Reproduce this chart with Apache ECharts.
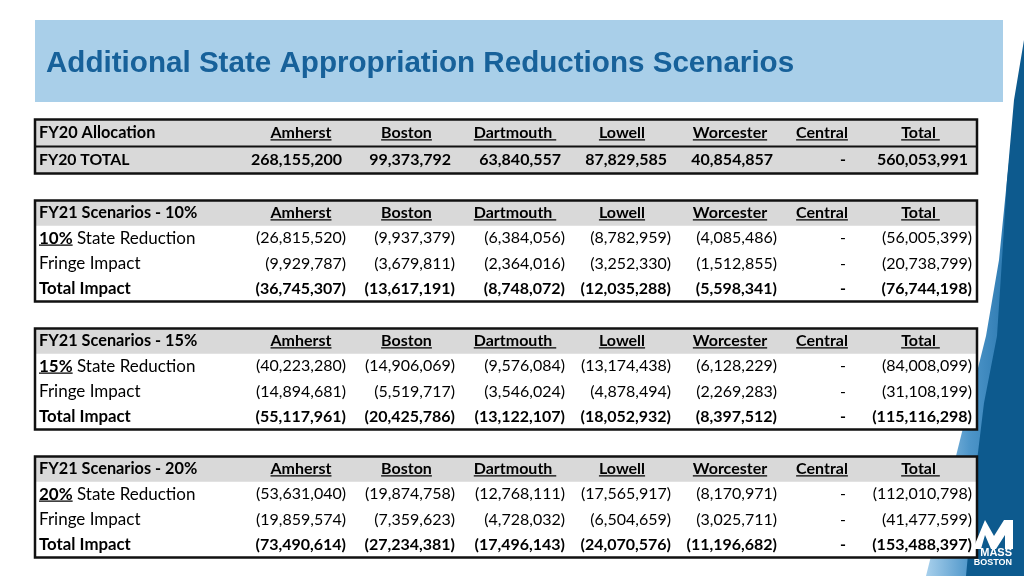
<!DOCTYPE html>
<html><head><meta charset="utf-8">
<script src="https://cdn.jsdelivr.net/npm/echarts@6/dist/echarts.min.js"></script>
<style>html,body{margin:0;padding:0;background:#fff}#c{width:1024px;height:576px}</style>
</head><body><div id="c"></div>
<script>
// ---------------- DATA ----------------
const titleText = 'Additional State Appropriation Reductions Scenarios';
const columns = ['Amherst', 'Boston', 'Dartmouth', 'Lowell', 'Worcester', 'Central', 'Total'];
const fy20Header = 'FY20 Allocation';
const fy20RowLabel = 'FY20 TOTAL';
const fy20Total = [268155200, 99373792, 63840557, 87829585, 40854857, 0, 560053991];
const scenarioHeaders = ['FY21 Scenarios - 10%', 'FY21 Scenarios - 15%', 'FY21 Scenarios - 20%'];
const scenarioPct = ['10%', '15%', '20%'];
const rowLabels = ['State Reduction', 'Fringe Impact', 'Total Impact'];
const reduction10 = [-26815520, -9937379, -6384056, -8782959, -4085486, 0, -56005399];
const fringe10 = [-9929787, -3679811, -2364016, -3252330, -1512855, 0, -20738799];
const total10 = [-36745307, -13617191, -8748072, -12035288, -5598341, 0, -76744198];
const reduction15 = [-40223280, -14906069, -9576084, -13174438, -6128229, 0, -84008099];
const fringe15 = [-14894681, -5519717, -3546024, -4878494, -2269283, 0, -31108199];
const total15 = [-55117961, -20425786, -13122107, -18052932, -8397512, 0, -115116298];
const reduction20 = [-53631040, -19874758, -12768111, -17565917, -8170971, 0, -112010798];
const fringe20 = [-19859574, -7359623, -4728032, -6504659, -3025711, 0, -41477599];
const total20 = [-73490614, -27234381, -17496143, -24070576, -11196682, 0, -153488397];

// ---------------- LAYOUT (table units) ----------------
const TABLE_W = 942;
const LABEL_X = 4;
const COL_RIGHT = [311, 420, 530, 636, 742, 812, 937];
const COL_HEAD = [266, 371.5, 480, 587, 695, 787, 885.5];
const HEAD_PAD = ['', '', ' ', '', '', '', ' '];
const FONT = 'Lato';
const FS = 16;

const mctx = document.createElement('canvas').getContext('2d');
function tw(text, font) { mctx.font = font; return mctx.measureText(text).width; }
function fmt(v) {
  if (v === 0) return '-';
  const s = Math.abs(v).toLocaleString('en-US');
  return v < 0 ? '(' + s + ')' : s;
}

const blocks = [
  { header: fy20Header, allGray: true, step: 1.07,
    rows: [{ label: fy20RowLabel, bold: true, values: fy20Total }] }
];
const scen = [[reduction10, fringe10, total10], [reduction15, fringe15, total15], [reduction20, fringe20, total20]];
scen.forEach((s, i) => {
  blocks.push({ header: scenarioHeaders[i], allGray: false, step: 1,
    rows: [
      { pct: scenarioPct[i], label: ' ' + rowLabels[0], bold: false, values: s[0] },
      { label: rowLabels[1], bold: false, values: s[1] },
      { label: rowLabels[2], bold: true, values: s[2], big: true }
    ] });
});

// build cells & boxes
const cells = [];
const boxes = [];
let u = 0;
blocks.forEach((b, bi) => {
  if (bi > 0) u += (bi === 1 ? 2.1 : 2.07);
  const half = b.step / 2;
  const top = u - half;
  cells.push({ x: LABEL_X, y: u, text: b.header, bold: true, align: 'left', fs: 16.3 });
  columns.forEach((c, ci) => cells.push({ x: COL_HEAD[ci], y: u, text: c + HEAD_PAD[ci], bold: true, align: 'center', underline: true }));
  const headerBottom = u + half;
  b.rows.forEach((r) => {
    u += b.step;
    if (r.pct) {
      cells.push({ x: LABEL_X, y: u, text: r.pct, bold: true, align: 'left', underline: true, follow: r.label, fs: 17 });
    } else {
      cells.push({ x: LABEL_X, y: u, text: r.label, bold: r.bold, align: 'left', fs: r.bold ? (r.big ? 16.8 : 15.8) : 17 });
    }
    r.values.forEach((v, ci) => {
      if (v === 0) cells.push({ x: COL_RIGHT[5] - 4, y: u, text: '-', bold: r.bold, align: 'center' });
      else cells.push({ x: COL_RIGHT[ci], y: u, text: fmt(v), bold: r.bold, align: 'right', pos: v > 0 });
    });
  });
  boxes.push([0, top, TABLE_W, u + half, headerBottom, b.allGray ? 1 : 0]);
});

const chart = echarts.init(document.getElementById('c'), null, { renderer: 'canvas' });
const UNIT = 25.25;
const Y_MIN = -0.6, Y_MAX = 16.8;
const gridTop = 133 + Y_MIN * UNIT;
const gridBottom = 576 - (133 + Y_MAX * UNIT);

function fontOf(bold, fs) { return (bold ? 'bold ' : '') + (fs || FS) + 'px ' + FONT; }

chart.setOption({
  animation: false,
  backgroundColor: '#ffffff',
  title: {
    text: titleText, left: 41, top: 44,
    textStyle: { fontFamily: 'Liberation Sans', fontWeight: 'bold', fontSize: 29.6, color: '#17619a' }
  },
  grid: { left: 35, right: 47, top: gridTop, bottom: gridBottom },
  xAxis: { type: 'value', min: 0, max: TABLE_W, show: false },
  yAxis: { type: 'value', min: Y_MIN, max: Y_MAX, inverse: true, show: false },
  graphic: [
    { type: 'rect', z: -10, shape: { x: 35, y: 20, width: 968, height: 82 }, style: { fill: '#a9cfe9' } },
    { type: 'polygon', z: 1, shape: { points: [[1024, 60], [1016, 100], [1007, 180], [999, 260], [986, 336], [961, 436], [936, 536], [926, 576], [1024, 576]] },
      style: { fill: new echarts.graphic.LinearGradient(0, 0, 1, 0, [{ offset: 0, color: '#a8d0ec' }, { offset: 0.45, color: '#4d95c9' }, { offset: 1, color: '#1f6ea6' }]) } },
    { type: 'polygon', z: 2, shape: { points: [[1024, 40], [1014, 100], [1007, 180], [1002, 260], [997, 336], [984, 403], [976, 469], [966, 576], [1024, 576]] },
      style: { fill: '#0d5a8e' } },
    { type: 'polygon', z: 50, shape: { points: [[973, 549], [985, 520], [994, 536], [1004, 520], [1013, 520], [1013, 549], [1005, 549], [1005, 535], [996, 549], [991, 549], [985, 535], [981, 549]] },
      style: { fill: '#ffffff' } },
    { type: 'text', z: 50, x: 1012, y: 553, style: { text: 'MASS', fill: '#ffffff', font: 'bold 11px "Liberation Sans"', align: 'right', verticalAlign: 'middle' } },
    { type: 'text', z: 50, x: 1012, y: 563, style: { text: 'BOSTON', fill: '#ffffff', font: 'bold 9px "Liberation Sans"', align: 'right', verticalAlign: 'middle' } }
  ],
  series: [
    {
      type: 'custom', name: 'boxes', z: 3,
      data: boxes,
      renderItem: function (params, api) {
        const p0 = api.coord([api.value(0), api.value(1)]);
        const p1 = api.coord([api.value(2), api.value(3)]);
        const ph = api.coord([api.value(2), api.value(4)]);
        const allGray = api.value(5) === 1;
        const x = p0[0], y = p0[1], w = p1[0] - p0[0], h = p1[1] - p0[1];
        const children = [
          { type: 'rect', shape: { x: x, y: y, width: w, height: h }, style: { fill: allGray ? '#d9d9d9' : '#ffffff' } },
          { type: 'rect', shape: { x: x, y: y, width: w, height: ph[1] - y }, style: { fill: '#d9d9d9' } }
        ];
        if (allGray) children.push({ type: 'line', shape: { x1: x, y1: ph[1], x2: x + w, y2: ph[1] }, style: { stroke: '#111', lineWidth: 2 } });
        children.push({ type: 'rect', shape: { x: x, y: y, width: w, height: h }, style: { fill: null, stroke: '#111', lineWidth: 2.5 } });
        return { type: 'group', children: children };
      }
    },
    {
      type: 'custom', name: 'cells', z: 4,
      data: cells.map((c, i) => [c.x, c.y, i]),
      renderItem: function (params, api) {
        const c = cells[params.dataIndex];
        const p = api.coord([api.value(0), api.value(1)]);
        const font = fontOf(c.bold, c.fs);
        let x = p[0];
        if (c.pos) x -= 4;
        const y = p[1];
        const children = [{ type: 'text', x: x, y: y, style: { text: c.text, font: font, fill: '#000', align: c.align, verticalAlign: 'middle' } }];
        const w = tw(c.text, font);
        if (c.underline) {
          let x1 = c.align === 'left' ? x : c.align === 'center' ? x - w / 2 : x - w;
          children.push({ type: 'line', shape: { x1: x1, y1: y + 6.8, x2: x1 + w, y2: y + 6.8 }, style: { stroke: '#000', lineWidth: 1.2 } });
        }
        if (c.follow) {
          children.push({ type: 'text', x: x + w, y: y, style: { text: c.follow, font: fontOf(false, c.fs), fill: '#000', align: 'left', verticalAlign: 'middle' } });
        }
        return { type: 'group', children: children };
      }
    }
  ]
});
</script>
</body></html>
